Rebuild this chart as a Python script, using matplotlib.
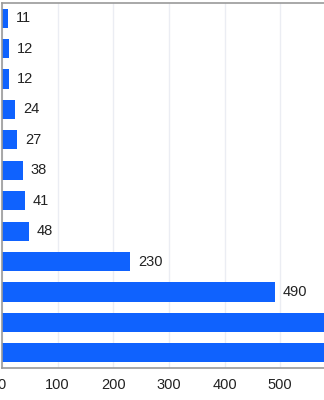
import matplotlib
matplotlib.use("Agg")
from matplotlib import pyplot as plt

# values top to bottom; the last two run past the right edge of the picture
values = [11, 12, 12, 24, 27, 38, 41, 48, 230, 490, 610, 640]
labels = [str(v) for v in values]
xticks = [0, 100, 200, 300, 400, 500]
xmax = 594

plt.rcParams['font.family'] = ['Liberation Sans', 'DejaVu Sans']

fig = plt.figure(figsize=(3.24, 4.0), dpi=100)
# axes spans from x=2px to beyond the right edge (picture is cropped)
ax = fig.add_axes([2 / 324, 1 - 368 / 400, 1.02, 365 / 400])

pos = list(range(len(values)))
ax.barh(pos, values, height=0.63, color='#0f62fe', zorder=2)
for p, v, lab in zip(pos, values, labels):
    if v + 60 < xmax * 0.98:  # labels of the cropped bars are off the picture
        ax.text(v + 14, p, lab, va='center', ha='left', fontsize=10.5, color='#222222')

ax.set_ylim(len(values) - 0.5, -0.5)
ax.set_xlim(0, xmax)
ax.set_xticks(xticks)
ax.set_xticklabels([str(t) for t in xticks], fontsize=10.5, color='#222222')
ax.set_yticks([])
ax.tick_params(axis='x', length=0, pad=7)
ax.grid(axis='x', color='#ebedf3', linewidth=1, zorder=0)

for s in ['left', 'bottom', 'top']:
    ax.spines[s].set_color('#9a9a9a')
    ax.spines[s].set_linewidth(1.2)
ax.spines['right'].set_visible(False)

fig.savefig('out.png', dpi=100)
